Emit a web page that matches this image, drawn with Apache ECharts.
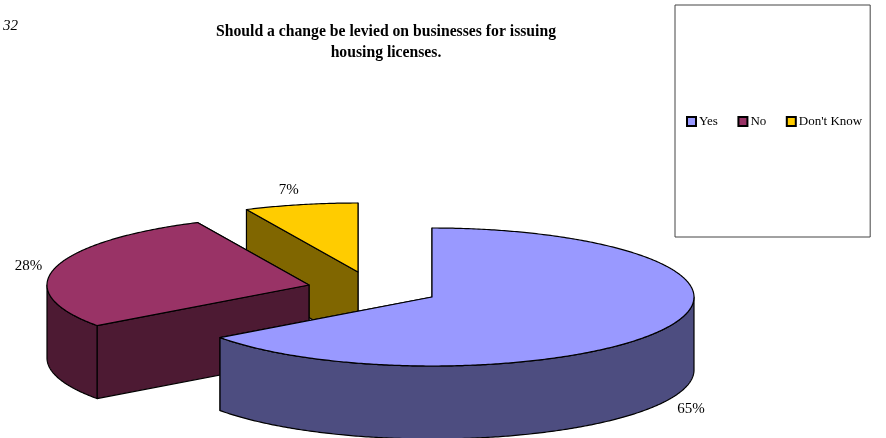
<!DOCTYPE html>
<html><head><meta charset="utf-8">
<style>html,body{margin:0;padding:0;background:#fff}#c{width:886px;height:438px}</style>
<script src="https://cdn.jsdelivr.net/npm/echarts@6/dist/echarts.min.js"></script>
</head><body><div id="c"></div>
<script>
const categories = ["Yes", "No", "Don't Know"];
const values = [65, 28, 7];
const topColors = ["#9999ff", "#993366", "#ffcc00"];
const sideColors = ["#4d4d80", "#4d1a33", "#806600"];
const centers = [[432, 297], [309, 285], [358, 272]];
const labelGaps = [1.11, 1.105, 1.21];
const RX = 262, RY = 69, DEPTH = 73;
const FONT = '"Liberation Serif","Times New Roman",serif';

const total = values.reduce((a, b) => a + b, 0);
const startAngles = values.map((_, i) => values.slice(0, i).reduce((a, b) => a + b, 0) / total * 2 * Math.PI);

function pt(c, a, k, dy) {
  return [c[0] + RX * k * Math.sin(a), c[1] - RY * k * Math.cos(a) + dy];
}
function arc(c, a0, a1, dy) {
  const out = [], n = Math.max(2, Math.ceil((a1 - a0) / 0.01));
  for (let i = 0; i <= n; i++) out.push(pt(c, a0 + (a1 - a0) * i / n, 1, dy));
  return out;
}
const lineStyle = fill => ({ fill, stroke: '#000', lineWidth: 1.2, lineJoin: 'round' });

function makeRender(idx) {
  return function () {
    const c = centers[idx];
    const a0 = startAngles[idx], a1 = a0 + values[idx] / total * 2 * Math.PI;
    const kids = [];
    const side = sideColors[idx];
    const cBottom = [c[0], c[1] + DEPTH];
    // flat cut faces, the one further back first
    [a0, a1].sort((p, q) => pt(c, p, 1, 0)[1] - pt(c, q, 1, 0)[1]).forEach(a => {
      const p = pt(c, a, 1, 0), q = pt(c, a, 1, DEPTH);
      kids.push({ type: 'polygon', shape: { points: [c, p, q, cBottom] }, style: lineStyle(side) });
    });
    // outer rim, only the part facing the viewer (angles from 90deg to 270deg)
    const r0 = Math.max(a0, Math.PI / 2), r1 = Math.min(a1, 3 * Math.PI / 2);
    if (r1 > r0) {
      const upper = arc(c, r0, r1, 0), lower = arc(c, r0, r1, DEPTH).reverse();
      kids.push({ type: 'polygon', shape: { points: upper.concat(lower) }, style: lineStyle(side) });
    }
    // top face
    kids.push({ type: 'polygon', shape: { points: [c].concat(arc(c, a0, a1, 0)) }, style: lineStyle(topColors[idx]) });
    // percentage label
    const mid = (a0 + a1) / 2;
    const lp = pt(c, mid, labelGaps[idx], Math.cos(mid) < 0 ? DEPTH + 4 : 0);
    kids.push({
      type: 'text',
      style: {
        x: lp[0], y: lp[1],
        text: Math.round(values[idx] / total * 100) + '%',
        fill: '#000', font: '15px ' + FONT, align: 'center', verticalAlign: 'middle'
      }
    });
    return { type: 'group', children: kids };
  };
}

const chart = echarts.init(document.getElementById('c'), null, { renderer: 'canvas' });
chart.setOption({
  animation: false,
  backgroundColor: '#fff',
  title: {
    text: 'Should a change be levied on businesses for issuing\nhousing licenses.',
    left: 386, top: 21, textAlign: 'center', padding: 0,
    textStyle: { fontFamily: FONT, fontSize: 15.7, fontWeight: 'bold', color: '#000', lineHeight: 21, align: 'center' }
  },
  graphic: [{
    type: 'text', left: 3, top: 19,
    style: { text: '32', font: 'italic 15px ' + FONT, fill: '#000' }
  }],
  legend: {
    left: 675, top: 5,
    orient: 'horizontal',
    data: categories,
    itemWidth: 9, itemHeight: 9, itemGap: 19.5,
    padding: [110, 8, 109, 11],
    borderColor: '#444', borderWidth: 1, backgroundColor: '#fff',
    textStyle: { fontFamily: FONT, fontSize: 13, color: '#000', padding: [0, 0, 0, -2] },
    selectedMode: false,
    icon: 'rect'
  },
  series: categories.map((name, i) => ({
    type: 'custom',
    name,
    coordinateSystem: 'none',
    z: 5 - i,
    silent: true,
    itemStyle: { color: topColors[i], borderColor: '#000', borderWidth: 1 },
    data: [values[i]],
    renderItem: makeRender(i)
  }))
});
</script></body></html>
